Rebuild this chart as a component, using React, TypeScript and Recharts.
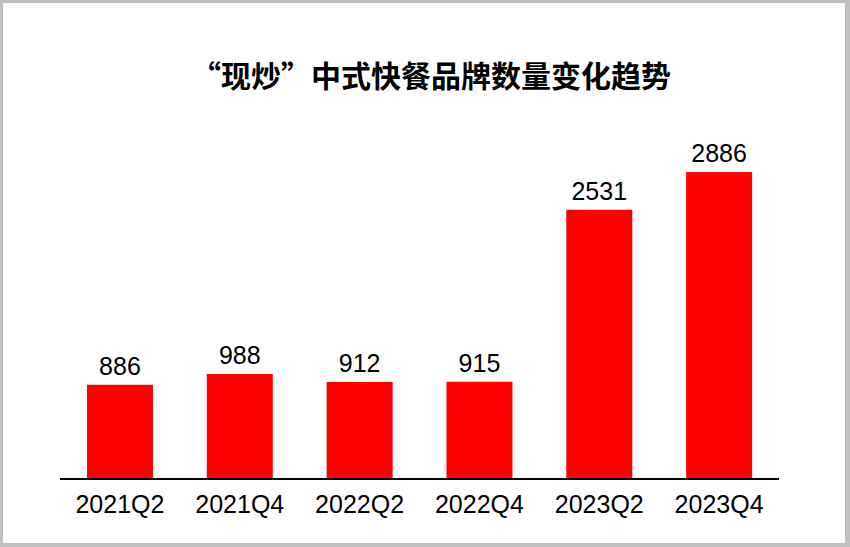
import React from 'react';
import { BarChart, Bar, XAxis, YAxis, LabelList } from 'recharts';

const quarters = ['2021Q2', '2021Q4', '2022Q2', '2022Q4', '2023Q2', '2023Q4'];
const brandCounts = [886, 988, 912, 915, 2531, 2886];

const data = quarters.map((q, i) => ({ quarter: q, count: brandCounts[i] }));

const font = '"Liberation Sans", Arial, sans-serif';

const App: React.FC = () => {
  return (
    <div style={{ position: 'absolute', left: 0, top: 0, width: 850, height: 547, background: '#fff' }}>
      <div
        style={{
          position: 'absolute',
          inset: 0,
          boxSizing: 'border-box',
          borderStyle: 'solid',
          borderColor: '#c0c0c0',
          borderWidth: '3px 5px 4px 3px',
        }}
      />
      <div
        style={{
          position: 'absolute',
          left: 0,
          width: 862,
          top: 54,
          textAlign: 'center',
          fontFamily: '"Noto Sans CJK SC", sans-serif',
          fontWeight: 700,
          fontSize: 30,
          lineHeight: '40px',
          color: '#000',
        }}
      >
        “现炒”中式快餐品牌数量变化趋势
      </div>
      <div style={{ position: 'absolute', left: 0, top: 0 }}>
        <BarChart
          width={850}
          height={547}
          data={data}
          margin={{ top: 160, right: 71, bottom: 28, left: 60 }}
          barCategoryGap="22.5%"
        >
          <XAxis
            dataKey="quarter"
            height={40}
            tickLine={false}
            axisLine={{ stroke: '#000', strokeWidth: 2 }}
            tickMargin={10}
            tick={{ fill: '#000', fontSize: 25, fontFamily: font }}
            interval={0}
          />
          <YAxis hide domain={[0, 3000]} />
          <Bar dataKey="count" fill="#ff0000" isAnimationActive={false}>
            <LabelList
              dataKey="count"
              position="top"
              offset={10}
              fill="#000"
              fontSize={25}
              fontFamily={font}
            />
          </Bar>
        </BarChart>
      </div>
    </div>
  );
};

export default App;
